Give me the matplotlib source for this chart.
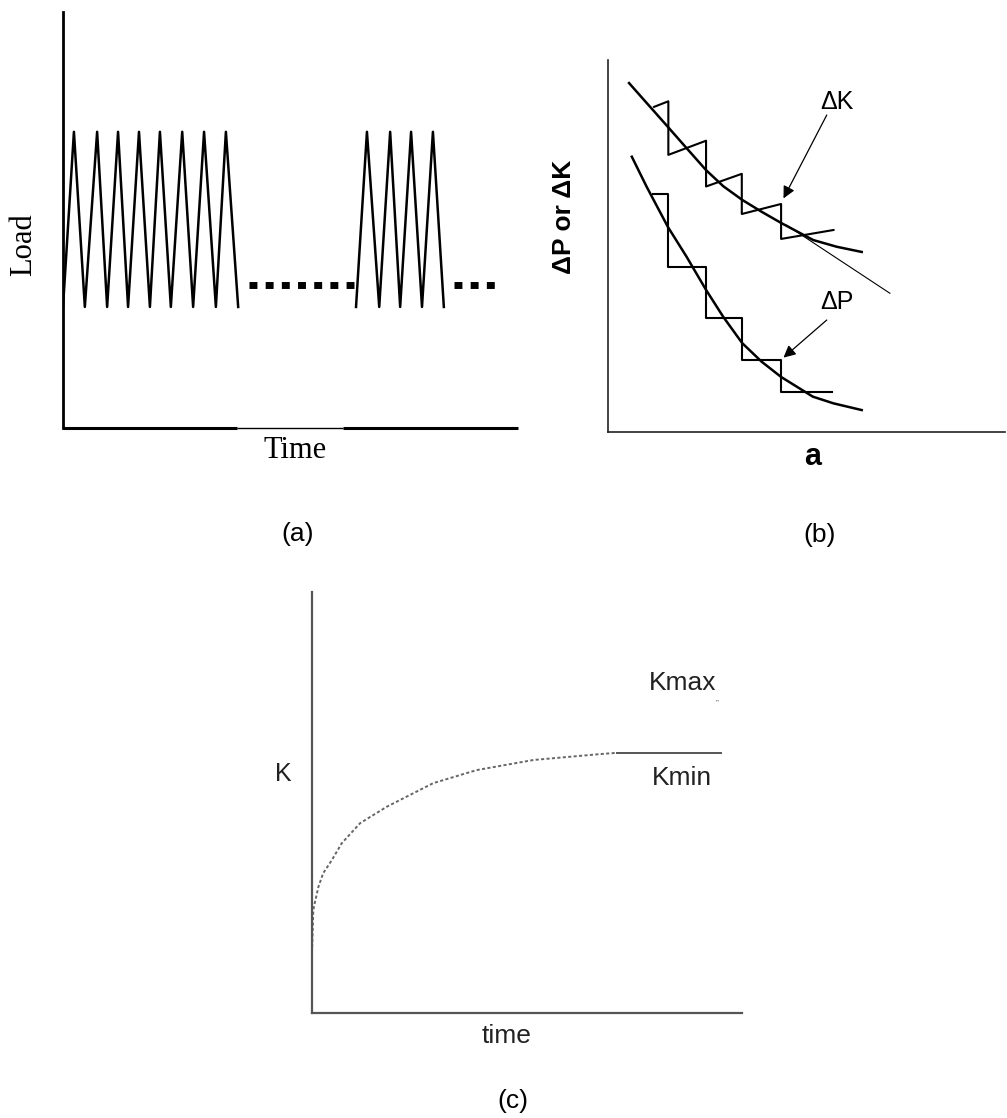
import matplotlib
matplotlib.use("Agg")
import matplotlib.pyplot as plt

# ---------------- data (arbitrary units, 0-100 on each axis) ----------------
# (a) block loading: two bursts of constant-amplitude cycles with holds between
burst1_time = [0, 2.4, 4.8, 7.5, 9.7, 12.1, 14.3, 16.7, 19.1, 21.3, 23.7, 26.2,
               28.6, 31.0, 33.6, 35.8, 38.5]
burst1_load = [29.1, 71.2, 29.1, 71.2, 29.1, 71.2, 29.1, 71.2, 29.1, 71.2, 29.1,
               71.2, 29.1, 71.2, 29.1, 71.2, 29.1]
burst2_time = [64.4, 66.8, 69.5, 71.9, 74.1, 76.5, 78.9, 81.3, 83.7]
burst2_load = [29.1, 71.2, 29.1, 71.2, 29.1, 71.2, 29.1, 71.2, 29.1]
hold1_time = [40.9, 64.2]
hold2_time = [85.9, 95.2]
hold_load = [34.4, 34.4]

# (b) load-shedding: stepped dP and sawtooth dK against crack length a
dk_step_a = [11.6, 15.2, 15.2, 24.7, 24.7, 33.7, 33.7, 43.6, 43.6, 56.8]
dk_step_v = [87.4, 88.9, 74.5, 78.3, 66.0, 69.4, 58.6, 61.3, 51.9, 54.3]
dk_curve_a = [5.3, 9.7, 15.1, 19.8, 24.7, 29.0, 33.8, 38.7, 43.6, 51.7, 57.6, 63.9]
dk_curve_v = [93.8, 88.5, 82.0, 76.3, 70.4, 66.1, 62.4, 59.2, 56.2, 51.6, 49.8, 48.4]
dk_trend_a = [45.0, 71.0]
dk_trend_v = [55.6, 37.3]
dp_step_a = [11.3, 15.2, 15.2, 24.7, 24.7, 33.7, 33.7, 43.6, 43.6, 56.4]
dp_step_v = [64.0, 64.0, 44.4, 44.4, 30.6, 30.6, 19.4, 19.4, 10.8, 10.8]
dp_curve_a = [6.0, 9.7, 15.1, 19.8, 24.7, 29.0, 33.8, 38.7, 43.6, 51.6, 56.8, 63.9]
dp_curve_v = [74.0, 66.0, 55.1, 47.1, 38.2, 31.0, 23.9, 18.9, 14.8, 9.5, 7.7, 5.9]

# (c) K rising towards a constant level with time
k_time = [0, 0.3, 0.7, 1.5, 2.6, 4.6, 6.9, 11.2, 17.4, 28.2, 38.3, 51.5, 67.0, 70.9]
k_val = [14.3, 24.5, 26.4, 30.0, 33.2, 36.3, 40.3, 45.1, 49.0, 54.6, 57.7, 60.1, 61.5, 61.8]
k_flat_time = [70.9, 95.1]
k_flat_val = [61.8, 61.8]

SERIF = ["Liberation Serif", "DejaVu Serif"]
SANS = ["Liberation Sans", "DejaVu Sans"]

W, H = 1007, 1118
fig = plt.figure(figsize=(W / 100, H / 100), dpi=100)


def make_axes(left, top, right, bottom):
    ax = fig.add_axes([left / W, 1 - bottom / H, (right - left) / W, (bottom - top) / H])
    ax.set_xlim(0, 100)
    ax.set_ylim(0, 100)
    ax.set_xticks([])
    ax.set_yticks([])
    for s in ("top", "right"):
        ax.spines[s].set_visible(False)
    ax.patch.set_alpha(0)
    return ax


# ---------------- panel (a) ----------------
axa = make_axes(63, 12, 518, 428)
axa.spines["left"].set_linewidth(2.0)
axa.spines["left"].set_color("black")
axa.spines["bottom"].set_visible(False)
axa.plot([0, 38.2], [0, 0], color="black", lw=2.2, clip_on=False, solid_capstyle="butt")
axa.plot([38.2, 61.5], [0, 0], color="black", lw=1.0, clip_on=False, solid_capstyle="butt")
axa.plot([61.5, 100], [0, 0], color="black", lw=2.2, clip_on=False, solid_capstyle="butt")
axa.plot(burst1_time, burst1_load, color="black", lw=1.8)
axa.plot(burst2_time, burst2_load, color="black", lw=1.8)
for ht in (hold1_time, hold2_time):
    axa.plot(ht, hold_load, color="black", lw=5.0, linestyle=(0, (1.14, 1.19)),
             dash_capstyle="butt")
axa.text(-8.6, 44, "Load", rotation=90, ha="center", va="center",
         fontsize=22, family=SERIF, clip_on=False)
axa.text(51.0, -7.2, "Time", ha="center", va="baseline",
         fontsize=22, family=SERIF, clip_on=False)

# ---------------- panel (b) ----------------
axb = make_axes(608, 60, 1005, 432)
for s in ("left", "bottom"):
    axb.spines[s].set_linewidth(1.2)
    axb.spines[s].set_color("#222222")
axb.plot(dk_curve_a, dk_curve_v, color="black", lw=1.8)
axb.plot(dk_trend_a, dk_trend_v, color="black", lw=0.8)
axb.plot(dk_step_a, dk_step_v, color="black", lw=1.5)
axb.plot(dp_curve_a, dp_curve_v, color="black", lw=1.8)
axb.plot(dp_step_a, dp_step_v, color="black", lw=1.5)
arrow = dict(arrowstyle="-|>", color="black", lw=0.9, mutation_scale=18,
             shrinkA=0, shrinkB=0)
axb.annotate("", xy=(44.2, 62.8), xytext=(55.1, 85.2), arrowprops=arrow)
axb.annotate("", xy=(44.2, 20.0), xytext=(55.1, 30.1), arrowprops=arrow)
axb.text(57.7, 88.7, "ΔK", ha="center", va="center", fontsize=18, family=SANS)
axb.text(57.7, 34.9, "ΔP", ha="center", va="center", fontsize=18, family=SANS)
axb.text(-11.1, 57.8, "ΔP or ΔK", rotation=90, ha="center", va="center",
         fontsize=19, fontweight="bold", family=SANS, clip_on=False)
axb.text(51.6, -6.7, "a", ha="center", va="center", fontsize=22,
         fontweight="bold", family=SANS, clip_on=False)

# ---------------- panel (c) ----------------
axc = make_axes(312, 592, 742, 1013)
for s in ("left", "bottom"):
    axc.spines[s].set_linewidth(1.6)
    axc.spines[s].set_color("#555555")
axc.plot(k_time, k_val, color="#666666", lw=1.4, linestyle=(0, (1.6, 1.2)))
axc.plot(k_flat_time, k_flat_val, color="#555555", lw=1.4)
axc.text(86.3, 78.4, "Kmax", ha="center", va="center", fontsize=19,
         family=SANS, color="#222222")
axc.text(94.2, 73.6, "\u201d", ha="center", va="center", fontsize=6,
         family=SANS, color="#555555")
axc.text(86.0, 55.8, "Kmin", ha="center", va="center", fontsize=19,
         family=SANS, color="#222222")
axc.text(-6.7, 56.8, "K", ha="center", va="center", fontsize=18,
         family=SANS, color="#222222", clip_on=False)
axc.text(45.3, -5.5, "time", ha="center", va="center", fontsize=19,
         family=SANS, color="#222222", clip_on=False)

# ---------------- panel captions ----------------
fig.text(298 / W, 1 - 534 / H, "(a)", ha="center", va="center", fontsize=19, family=SANS)
fig.text(820 / W, 1 - 535 / H, "(b)", ha="center", va="center", fontsize=19, family=SANS)
fig.text(513 / W, 1 - 1101 / H, "(c)", ha="center", va="center", fontsize=19, family=SANS)

fig.savefig("out.png", dpi=100, facecolor="white")
